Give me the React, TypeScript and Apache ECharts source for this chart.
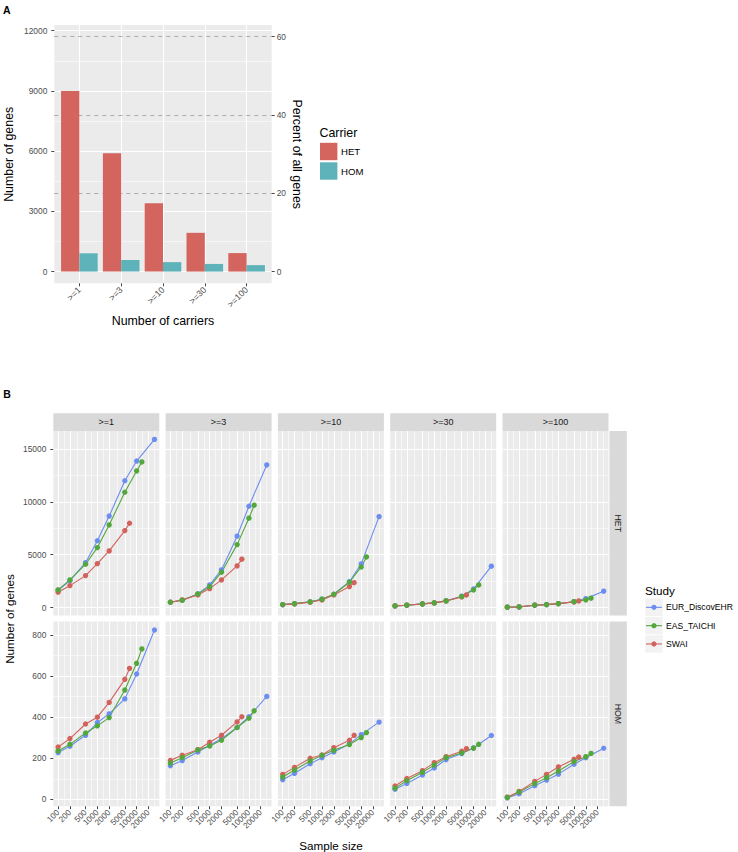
import React, { useEffect, useRef } from "react";
import * as echarts from "echarts";

// ---------------- data ----------------
const carrierCats = [">=1", ">=3", ">=10", ">=30", ">=100"];
const hetGenes = [9000, 5900, 3400, 1930, 920];
const homGenes = [910, 580, 470, 380, 320];
const totalGenes = 19500;
const percentLines = [20, 40, 60];
const geneTicksA = [0, 3000, 6000, 9000, 12000];
const percentTicks = [0, 20, 40, 60];

const studies = ["EUR_DiscovEHR", "EAS_TAICHI", "SWAI"];
const carrierRows = ["HET", "HOM"];
const sampleTicks = [100, 200, 500, 1000, 2000, 5000, 10000, 20000];
const hetTicks = [0, 5000, 10000, 15000];
const homTicks = [0, 200, 400, 600, 800];

const sizesEUR = [100, 200, 500, 1000, 2000, 5000, 10000, 28500];
const sizesEAS = [100, 200, 500, 1000, 2000, 5000, 10000, 13600];
const sizesSWAI = [100, 200, 500, 1000, 2000, 5000, 6600];

// one row per carrier threshold (>=1, >=3, >=10, >=30, >=100)
const hetEUR = [
  [1640, 2550, 4250, 6320, 8650, 11990, 13850, 15900],
  [510, 699, 1295, 2146, 3563, 6749, 9584, 13488],
  [284, 378, 539, 794, 1266, 2450, 4130, 8601],
  [161, 227, 350, 444, 640, 1080, 1750, 3913],
  [38, 66, 227, 284, 378, 560, 850, 1550],
];
const hetEAS = [
  [1673, 2618, 4102, 5671, 7817, 10907, 12921, 13771],
  [510, 699, 1295, 1985, 3346, 5955, 8450, 9679],
  [284, 378, 539, 794, 1266, 2400, 3847, 4792],
  [161, 227, 350, 444, 633, 1050, 1673, 2146],
  [38, 66, 227, 284, 378, 560, 728, 889],
];
const hetSWAI = [
  [1456, 2080, 3025, 4159, 5359, 7278, 7977],
  [510, 728, 1200, 1796, 2618, 3941, 4575],
  [284, 350, 510, 728, 1200, 1985, 2363],
  [161, 227, 350, 444, 633, 1012, 1200],
  [38, 66, 227, 284, 378, 539, 633],
];
const homEUR = [
  [228, 259, 312, 374, 416, 489, 610, 824],
  [164, 189, 231, 262, 296, 350, 402, 501],
  [96, 127, 174, 203, 231, 270, 315, 376],
  [50, 78, 119, 153, 194, 223, 250, 311],
  [8, 28, 67, 94, 123, 171, 203, 249],
];
const homEAS = [
  [236, 268, 323, 358, 398, 532, 662, 732],
  [177, 203, 241, 260, 288, 350, 395, 431],
  [109, 143, 187, 215, 239, 267, 301, 325],
  [55, 91, 132, 167, 203, 226, 250, 268],
  [10, 36, 77, 106, 138, 184, 208, 224],
];
const homSWAI = [
  [255, 296, 367, 400, 472, 584, 637],
  [190, 215, 242, 278, 312, 377, 402],
  [122, 156, 200, 216, 252, 288, 312],
  [65, 102, 140, 179, 208, 234, 247],
  [11, 39, 88, 122, 158, 195, 206],
];

// ---------------- style / layout ----------------
const FONT = "'Liberation Sans', Arial, Helvetica, sans-serif";
const HET_COLOR = "#D3645E";
const HOM_COLOR = "#5EB2B9";
const STUDY_COLORS = ["#6C8EF0", "#52A83B", "#D2635C"];
const PANEL_BG = "#EBEBEB";
const STRIP_BG = "#D9D9D9";
const TICK_STYLE = { color: "#333333", width: 0.9 };
const MAJOR_GRID = { show: true, lineStyle: { color: "#FFFFFF", width: 1.1 } };
const MINOR_GRID = { show: true, lineStyle: { color: "#FFFFFF", width: 0.55 } };

const A_GRID = { left: 54.3, top: 25, width: 217.4, height: 258.3 };
const B_COL_LEFT = [53.3, 165.6, 277.9, 390.2, 502.5];
const B_COL_W = 106;
const B_ROW_TOP = [431, 621.6];
const B_ROW_H = 184.6;
const STRIP_TOP = 413.3;
const STRIP_H = 17.7;
const RSTRIP_LEFT = 609.5;
const RSTRIP_W = 17.3;

const labelStyle = (size: number) => ({ color: "#4D4D4D", fontFamily: FONT, fontSize: size });

const expand = (lo: number, hi: number) => {
  const d = (hi - lo) * 0.05;
  return [lo - d, hi + d];
};

const minorBreaks = (b: number[], lo: number, hi: number) => {
  const bd = b[1] - b[0];
  const ext = [b[0] - bd, ...b, b[b.length - 1] + bd];
  const out: number[] = [];
  for (let i = 0; i < ext.length - 1; i++) {
    const m = (ext[i] + ext[i + 1]) / 2;
    if (m > lo && m < hi) out.push(m);
  }
  return out;
};

const txt = (x: number, y: number, text: string, size: number, o: any = {}) => ({
  type: "text",
  x,
  y,
  rotation: o.rotation || 0,
  silent: true,
  z: 10,
  style: {
    text,
    fill: o.fill || "#000000",
    fontSize: size,
    fontFamily: FONT,
    fontWeight: o.bold ? "bold" : "normal",
    align: o.align || "center",
    verticalAlign: o.va || "middle",
  },
});

function buildOption() {
  const grids: any[] = [];
  const xAxes: any[] = [];
  const yAxes: any[] = [];
  const series: any[] = [];
  const graphics: any[] = [];

  // ---------- Panel A ----------
  grids.push({ ...A_GRID, show: true, backgroundColor: PANEL_BG, borderWidth: 0 });
  const aMax = Math.max(...hetGenes, ...homGenes, (totalGenes * Math.max(...percentLines)) / 100);
  const aY = expand(0, aMax);
  const catPos = carrierCats.map((_, i) => i + 1);
  xAxes.push({
    type: "value",
    gridIndex: 0,
    min: 0.4,
    max: carrierCats.length + 0.6,
    axisLine: { show: false, onZero: false },
    axisTick: { show: true, length: 3, lineStyle: TICK_STYLE, customValues: catPos },
    axisLabel: {
      show: true,
      customValues: catPos,
      formatter: (v: number) => carrierCats[Math.round(v) - 1] || "",
      rotate: 45,
      margin: 5,
      ...labelStyle(8.8),
    },
    splitLine: MAJOR_GRID,
  });
  yAxes.push({
    type: "value",
    gridIndex: 0,
    position: "left",
    min: aY[0],
    max: aY[1],
    axisLine: { show: false, onZero: false },
    axisTick: { show: true, length: 3, lineStyle: TICK_STYLE, customValues: geneTicksA },
    axisLabel: { show: true, customValues: geneTicksA, formatter: (v: number) => String(v), margin: 7, ...labelStyle(8.4) },
    splitLine: MAJOR_GRID,
  });
  yAxes.push({
    type: "value",
    gridIndex: 0,
    position: "left",
    min: aY[0],
    max: aY[1],
    axisLine: { show: false, onZero: false },
    axisTick: { show: false, customValues: minorBreaks(geneTicksA, aY[0], aY[1]) },
    axisLabel: { show: false },
    splitLine: MINOR_GRID,
  });
  yAxes.push({
    type: "value",
    gridIndex: 0,
    position: "right",
    min: (aY[0] * 100) / totalGenes,
    max: (aY[1] * 100) / totalGenes,
    axisLine: { show: false, onZero: false },
    axisTick: { show: true, length: 3, lineStyle: TICK_STYLE, customValues: percentTicks },
    axisLabel: { show: true, customValues: percentTicks, formatter: (v: number) => String(v), margin: 5, ...labelStyle(8.4) },
    splitLine: { show: false },
  });
  series.push({
    type: "bar",
    name: "HET",
    xAxisIndex: 0,
    yAxisIndex: 0,
    data: hetGenes.map((v, i) => [i + 1, v]),
    barWidth: 18.3,
    barGap: "0%",
    itemStyle: { color: HET_COLOR },
    z: 3,
    silent: true,
    markLine: {
      silent: true,
      z: 1,
      symbol: ["none", "none"],
      label: { show: false },
      lineStyle: { color: "#A3A3A3", width: 0.9, type: [4, 4] },
      data: percentLines.map((p) => ({ yAxis: (p * totalGenes) / 100 })),
    },
  });
  series.push({
    type: "bar",
    name: "HOM",
    xAxisIndex: 0,
    yAxisIndex: 0,
    data: homGenes.map((v, i) => [i + 1, v]),
    barWidth: 18.3,
    barGap: "0%",
    itemStyle: { color: HOM_COLOR },
    z: 3,
    silent: true,
  });

  graphics.push(txt(3, 9.7, "A", 10.5, { bold: true, align: "left" }));
  graphics.push(txt(9, 154.3, "Number of genes", 12.4, { rotation: Math.PI / 2 }));
  graphics.push(txt(163, 321, "Number of carriers", 12.4));
  graphics.push(txt(297, 154.3, "Percent of all genes", 12.4, { rotation: -Math.PI / 2 }));
  graphics.push(txt(319.5, 133, "Carrier", 12.4, { align: "left" }));
  [HET_COLOR, HOM_COLOR].forEach((col, i) => {
    const y0 = 142.8 + i * 19.5;
    graphics.push({ type: "rect", silent: true, shape: { x: 320, y: y0, width: 17.4, height: 17.4 }, style: { fill: col } });
    graphics.push(txt(341, y0 + 8.7, carrierRows[i], 9.6, { align: "left" }));
  });

  // ---------- Panel B ----------
  const sizes = [sizesEUR, sizesEAS, sizesSWAI];
  const rowData = [
    [hetEUR, hetEAS, hetSWAI],
    [homEUR, homEAS, homSWAI],
  ];
  const rowTicks = [hetTicks, homTicks];
  const allSizes = sizes.flat();
  const bX = expand(Math.log10(Math.min(...allSizes)), Math.log10(Math.max(...allSizes)));
  const majorLog = sampleTicks.map((v) => Math.log10(v));
  const minorLog = minorBreaks(majorLog, bX[0], bX[1]);
  const pointOrder = [0, 2, 1];

  for (let r = 0; r < 2; r++) {
    const vals = rowData[r].flatMap((s) => s.flat());
    const rY = expand(Math.min(...vals), Math.max(...vals));
    const yMinor = minorBreaks(rowTicks[r], rY[0], rY[1]);
    for (let c = 0; c < 5; c++) {
      const g = grids.length;
      grids.push({
        left: B_COL_LEFT[c],
        top: B_ROW_TOP[r],
        width: B_COL_W,
        height: B_ROW_H,
        show: true,
        backgroundColor: PANEL_BG,
        borderWidth: 0,
      });
      const xi = xAxes.length;
      xAxes.push({
        type: "value",
        gridIndex: g,
        position: "bottom",
        min: bX[0],
        max: bX[1],
        axisLine: { show: false, onZero: false },
        axisTick: { show: r === 1, length: 3, lineStyle: TICK_STYLE, customValues: majorLog },
        axisLabel: {
          show: r === 1,
          customValues: majorLog,
          formatter: (v: number) => String(Math.round(Math.pow(10, v))),
          rotate: 45,
          margin: 5,
          ...labelStyle(8.2),
        },
        splitLine: MAJOR_GRID,
      });
      xAxes.push({
        type: "value",
        gridIndex: g,
        position: "bottom",
        min: bX[0],
        max: bX[1],
        axisLine: { show: false, onZero: false },
        axisTick: { show: false, customValues: minorLog },
        axisLabel: { show: false },
        splitLine: MINOR_GRID,
      });
      const yi = yAxes.length;
      yAxes.push({
        type: "value",
        gridIndex: g,
        position: "left",
        min: rY[0],
        max: rY[1],
        axisLine: { show: false, onZero: false },
        axisTick: { show: c === 0, length: 3, lineStyle: TICK_STYLE, customValues: rowTicks[r] },
        axisLabel: {
          show: c === 0,
          customValues: rowTicks[r],
          formatter: (v: number) => String(v),
          margin: 7,
          ...labelStyle(8.4),
        },
        splitLine: MAJOR_GRID,
      });
      yAxes.push({
        type: "value",
        gridIndex: g,
        position: "left",
        min: rY[0],
        max: rY[1],
        axisLine: { show: false, onZero: false },
        axisTick: { show: false, customValues: yMinor },
        axisLabel: { show: false },
        splitLine: MINOR_GRID,
      });
      const pts = (s: number) => sizes[s].map((n, i) => [Math.log10(n), rowData[r][s][c][i]]);
      for (let s = 0; s < 3; s++) {
        series.push({
          type: "line",
          name: studies[s],
          xAxisIndex: xi,
          yAxisIndex: yi,
          data: pts(s),
          showSymbol: false,
          symbol: "none",
          silent: true,
          z: 2,
          lineStyle: { color: STUDY_COLORS[s], width: 1.1 },
        });
      }
      for (const s of pointOrder) {
        series.push({
          type: "scatter",
          name: studies[s],
          xAxisIndex: xi,
          yAxisIndex: yi,
          data: pts(s),
          symbol: "circle",
          symbolSize: 5.4,
          silent: true,
          z: 3,
          itemStyle: { color: STUDY_COLORS[s], opacity: 1 },
        });
      }
    }
  }

  // strips
  carrierCats.forEach((cat, c) => {
    graphics.push({
      type: "rect",
      silent: true,
      shape: { x: B_COL_LEFT[c], y: STRIP_TOP, width: B_COL_W, height: STRIP_H },
      style: { fill: STRIP_BG },
    });
    graphics.push(txt(B_COL_LEFT[c] + B_COL_W / 2, STRIP_TOP + STRIP_H / 2, cat, 9, { fill: "#1A1A1A" }));
  });
  carrierRows.forEach((row, r) => {
    graphics.push({
      type: "rect",
      silent: true,
      shape: { x: RSTRIP_LEFT, y: B_ROW_TOP[r], width: RSTRIP_W, height: B_ROW_H },
      style: { fill: STRIP_BG },
    });
    graphics.push(
      txt(RSTRIP_LEFT + RSTRIP_W / 2, B_ROW_TOP[r] + B_ROW_H / 2, row, 8.8, { fill: "#1A1A1A", rotation: -Math.PI / 2 })
    );
  });

  graphics.push(txt(3.3, 394, "B", 10.5, { bold: true, align: "left" }));
  graphics.push(txt(9.5, 619, "Number of genes", 11.7, { rotation: Math.PI / 2 }));
  graphics.push(txt(331, 845, "Sample size", 11.7));
  graphics.push(txt(645, 590, "Study", 11.7, { align: "left" }));
  studies.forEach((name, i) => {
    const y0 = 598.7 + i * 18.3;
    const cy = y0 + 8.65;
    graphics.push({ type: "rect", silent: true, shape: { x: 645.3, y: y0, width: 17.3, height: 17.3 }, style: { fill: "#F2F2F2" } });
    graphics.push({
      type: "line",
      silent: true,
      shape: { x1: 646, y1: cy, x2: 661.9, y2: cy },
      style: { stroke: STUDY_COLORS[i], lineWidth: 1.1 },
    });
    graphics.push({ type: "circle", silent: true, shape: { cx: 653.95, cy, r: 2.6 }, style: { fill: STUDY_COLORS[i] } });
    graphics.push(txt(666, cy, name, 8.6, { align: "left" }));
  });

  return {
    animation: false,
    backgroundColor: "#FFFFFF",
    grid: grids,
    xAxis: xAxes,
    yAxis: yAxes,
    series,
    graphic: { elements: graphics },
  };
}

export default function App() {
  const ref = useRef<HTMLDivElement>(null);
  useEffect(() => {
    if (!ref.current) return;
    const chart = echarts.init(ref.current, undefined, { renderer: "svg" });
    chart.setOption(buildOption() as any);
    return () => chart.dispose();
  }, []);
  return (
    <div
      ref={ref}
      style={{ position: "absolute", left: 0, top: 0, width: "738px", height: "852px" }}
    />
  );
}
